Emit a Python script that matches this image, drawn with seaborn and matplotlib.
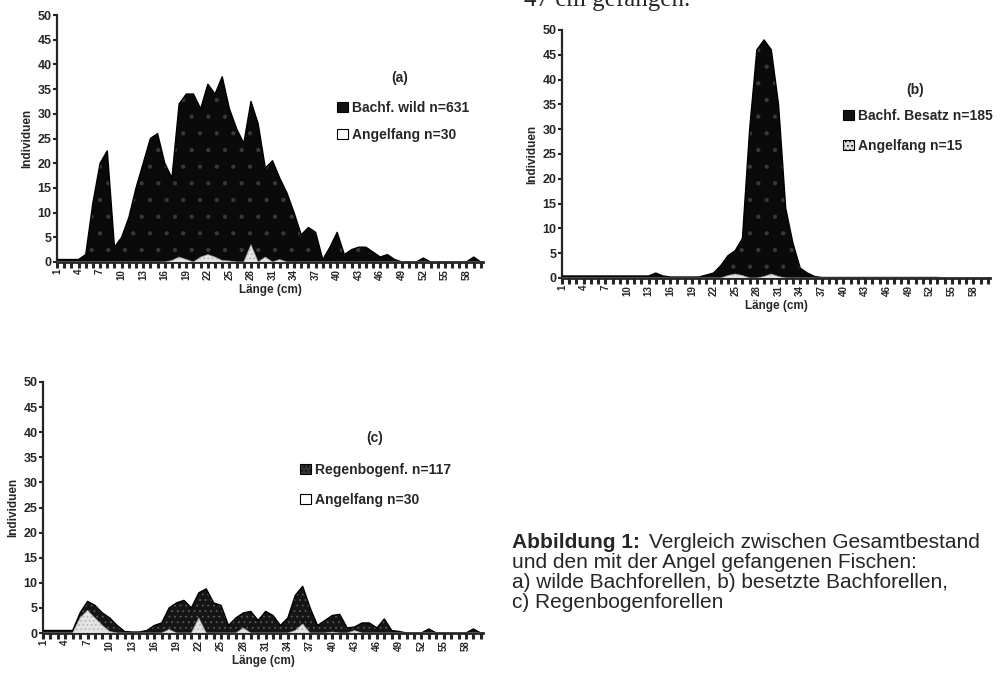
import pandas as pd
import seaborn as sns
import matplotlib.pyplot as plt
from matplotlib.patches import Patch

# Länge in cm (Klassen 1..60)
laenge = list(range(1, 61))
xticks = list(range(1, 59, 3))
yticks = list(range(0, 51, 5))

# (a) wilde Bachforellen
wild_a = [0.5, 0.5, 0.5, 0.5, 1.5, 12, 20, 22.5, 3, 5,
          9, 15, 20, 25, 26, 20, 17, 32, 34, 34,
          31, 36, 34, 37.5, 31, 27, 24, 32.5, 28, 19,
          20.5, 17, 14, 10, 5.5, 7, 6, 0.5, 3, 6,
          1.5, 2.5, 3, 3, 2, 1, 1.5, 0.5, 0, 0,
          0, 0.8, 0, 0, 0, 0, 0, 0, 1, 0]
angel_a = [0, 0, 0, 0, 0, 0, 0, 0, 0, 0,
           0, 0, 0, 0, 0, 0, 0.3, 1, 0.5, 0,
           1, 1.5, 1, 0.3, 0.2, 0, 0, 3.5, 0, 1,
           0, 0.5, 0, 0, 0, 0, 0, 0, 0, 0,
           0, 0, 0, 0, 0, 0, 0, 0, 0, 0,
           0, 0, 0, 0, 0, 0, 0, 0, 0, 0]

# (b) besetzte Bachforellen
besatz_b = [0.4, 0.4, 0.4, 0.4, 0.4, 0.4, 0.4, 0.4, 0.4, 0.4,
            0.4, 0.4, 0.4, 1, 0.4, 0.2, 0.2, 0.2, 0.2, 0.2,
            0.6, 1, 2.5, 4.5, 5.5, 8, 30, 46, 48, 46,
            35, 14, 7, 2, 1, 0.3, 0.1, 0.1, 0.1, 0.1,
            0.1, 0.1, 0.1, 0.1, 0.1, 0.1, 0.1, 0.1, 0.1, 0.1,
            0.1, 0.1, 0.1, 0, 0, 0, 0, 0, 0, 0]
angel_b = [0, 0, 0, 0, 0, 0, 0, 0, 0, 0,
           0, 0, 0, 0, 0, 0, 0, 0, 0, 0,
           0, 0, 0, 0.5, 0.8, 0.5, 0, 0, 0.3, 0.8,
           0.3, 0, 0, 0, 0, 0, 0, 0, 0, 0,
           0, 0, 0, 0, 0, 0, 0, 0, 0, 0,
           0, 0, 0, 0, 0, 0, 0, 0, 0, 0]

# (c) Regenbogenforellen
regen_c = [0.5, 0.5, 0.5, 0.5, 0.5, 4, 6.3, 5.5, 4, 3,
           1.5, 0.3, 0.2, 0.2, 0.5, 1.5, 2, 5, 6, 6.5,
           5, 8, 8.8, 6, 5.5, 1.5, 3, 4, 4.3, 2.5,
           4.3, 3.5, 1.5, 3, 7.5, 9.3, 5, 1.5, 2.5, 3.5,
           3.7, 1, 1.2, 2, 2, 1, 2.8, 0.5, 0.3, 0,
           0, 0, 0.8, 0, 0, 0, 0, 0, 0.8, 0]
angel_c = [0, 0, 0, 0, 0, 3, 4.5, 3, 1.5, 0.3,
           0, 0, 0, 0, 0, 0, 0, 0.7, 0, 0,
           0, 3, 0, 0, 0, 0, 0, 1, 0, 0,
           0, 0, 0, 0, 0.5, 1.8, 0, 0, 0, 0.2,
           0, 0, 0.5, 0, 0, 0, 0, 0, 0, 0,
           0, 0, 0, 0, 0, 0, 0, 0, 0, 0]

sns.set_style("ticks")
plt.rcParams['font.family'] = ['Liberation Sans', 'DejaVu Sans']
plt.rcParams['hatch.linewidth'] = 0.6

fig = plt.figure(figsize=(10.03, 6.74), dpi=100)
W, H = 1003, 674


def box(left, top, right, bottom):
    return [left / W, 1 - bottom / H, (right - left) / W, (bottom - top) / H]


def panel(ax, main, angel, main_fc, main_hatch, main_hc):
    df = pd.DataFrame({"Länge": laenge, "Bestand": main, "Angelfang": angel})
    ax.fill_between(df["Länge"], df["Bestand"], facecolor=main_fc,
                    hatch=main_hatch, edgecolor=main_hc, linewidth=0, zorder=2)
    sns.lineplot(data=df, x="Länge", y="Bestand", ax=ax, color="black", lw=1, zorder=3)
    ax.fill_between(df["Länge"], df["Angelfang"], facecolor="#e4e4e4",
                    hatch="....", edgecolor="#b0b0b0", linewidth=0, zorder=4)
    sns.lineplot(data=df, x="Länge", y="Angelfang", ax=ax, color="#a0a0a0", lw=0.5, zorder=5)
    ax.set_xlim(1, 60.3)
    ax.set_ylim(0, 50)
    ax.set_xticks(xticks)
    ax.set_xticks(laenge, minor=True)
    ax.set_xticklabels([str(v) for v in xticks], rotation=90, fontsize=7, fontweight="bold")
    ax.set_yticks(yticks)
    ax.set_yticklabels([str(v) for v in yticks], fontsize=9, fontweight="bold")
    ax.tick_params(axis="x", which="both", direction="out", length=4, width=2.2, pad=1)
    ax.tick_params(axis="y", direction="out", length=3, width=1.5, pad=1)
    ax.set_xlabel("Länge (cm)", fontsize=8.5, fontweight="bold", labelpad=3)
    ax.set_ylabel("Individuen", fontsize=8.5, fontweight="bold", labelpad=3)
    sns.despine(ax=ax)
    ax.spines["left"].set_linewidth(1.6)
    ax.spines["bottom"].set_linewidth(2)


def legend(ax, tag, tag_xy, labels, handles, left, row1, gap):
    fig.text(tag_xy[0] / W, 1 - tag_xy[1] / H, tag, fontsize=10, fontweight="bold",
             ha="center", va="center")
    ax.legend(handles=handles, labels=labels, loc="upper left",
              bbox_to_anchor=(left / W, 1 - (row1 - 9) / H), bbox_transform=fig.transFigure,
              frameon=False, borderpad=0, borderaxespad=0, handlelength=0.8,
              handleheight=0.8, handletextpad=0.25, labelspacing=(gap - 14) / 14,
              prop={"weight": "bold", "size": 10})


h_black = Patch(facecolor="#111111", edgecolor="black", lw=0.8)
h_white = Patch(facecolor="white", edgecolor="black", lw=0.8)
h_dotted = Patch(facecolor="#dddddd", edgecolor="black", lw=0.8, hatch="....")
h_regen = Patch(facecolor="#333333", edgecolor="black", lw=0.8, hatch="....")

ax_a = fig.add_axes(box(57, 15, 483, 262))
panel(ax_a, wild_a, angel_a, "#0a0a0a", ".", "#3a3a3a")
legend(ax_a, "(a)", (400, 78), ["Bachf. wild n=631", "Angelfang n=30"],
       [h_black, h_white], 337, 110, 27)

ax_b = fig.add_axes(box(562, 30, 990, 278))
panel(ax_b, besatz_b, angel_b, "#0a0a0a", ".", "#3a3a3a")
legend(ax_b, "(b)", (915, 90), ["Bachf. Besatz n=185", "Angelfang n=15"],
       [h_black, h_dotted], 843, 118, 30)

ax_c = fig.add_axes(box(43, 382, 483, 633))
panel(ax_c, regen_c, angel_c, "#151515", "...", "#5a5a5a")
legend(ax_c, "(c)", (375, 438), ["Regenbogenf. n=117", "Angelfang n=30"],
       [h_regen, h_white], 300, 472, 30)

# Textreste oben (abgeschnittene Zeile des Fließtextes)
fig.text(690 / W, 1 - 6 / H, "47 cm gefangen.", ha="right", va="baseline",
         fontsize=18, family=["Liberation Serif", "DejaVu Serif"])

# Abbildungsunterschrift
cap = 15
fig.text(512 / W, 1 - 543 / H, "Abbildung 1:", fontsize=cap, fontweight="bold", va="center")
fig.text(649 / W, 1 - 543 / H, "Vergleich zwischen Gesamtbestand", fontsize=cap, va="center")
fig.text(512 / W, 1 - 563 / H, "und den mit der Angel gefangenen Fischen:", fontsize=cap, va="center")
fig.text(512 / W, 1 - 583 / H, "a) wilde Bachforellen, b) besetzte Bachforellen,", fontsize=cap, va="center")
fig.text(512 / W, 1 - 602 / H, "c) Regenbogenforellen", fontsize=cap, va="center")

fig.savefig("out.png", dpi=100)
